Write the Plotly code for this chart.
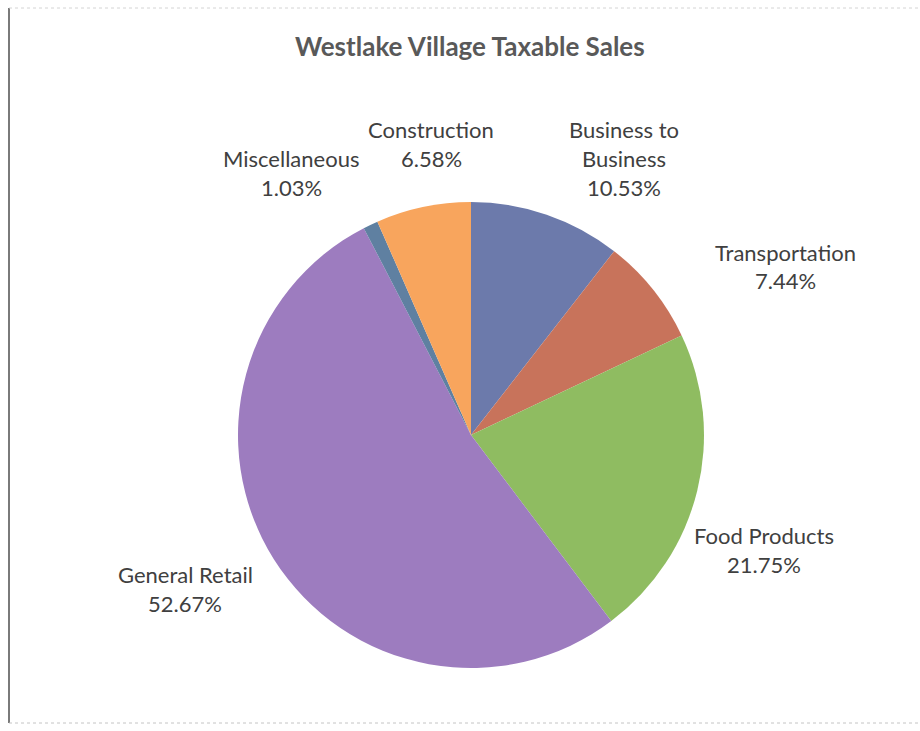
import plotly.graph_objects as go

# Taxable sales share by sector, clockwise from 12 o'clock
categories = ["Business to Business", "Transportation", "Food Products",
              "General Retail", "Miscellaneous", "Construction"]
shares = [10.53, 7.44, 21.75, 52.67, 1.03, 6.58]
colors = ["#6C7AAB", "#C8735B", "#8FBC61", "#9D7CBF", "#5F80A1", "#F8A55D"]

# Label lines as drawn beside each slice
label_lines = {
    "Business to Business": ["Business to", "Business"],
    "Transportation": ["Transportation"],
    "Food Products": ["Food Products"],
    "General Retail": ["General Retail"],
    "Miscellaneous": ["Miscellaneous"],
    "Construction": ["Construction"],
}
# Label anchor (x px, y px of first line) for each category
label_pos = {
    "Business to Business": (624, 129),
    "Transportation": (785, 252),
    "Food Products": (764, 535),
    "General Retail": (185, 574),
    "Miscellaneous": (291, 158),
    "Construction": (431, 129),
}

W, H = 920, 731
cx, cy, r = 471, 435, 233

fig = go.Figure(go.Pie(
    labels=categories,
    values=shares,
    marker=dict(colors=colors, line=dict(width=0)),
    sort=False,
    direction="clockwise",
    rotation=0,
    textinfo="none",
    hoverinfo="label+percent",
    showlegend=False,
    domain=dict(x=[(cx - r) / W, (cx + r) / W],
                y=[(H - cy - r) / H, (H - cy + r) / H]),
))

font_fam = "Lato, 'Open Sans', sans-serif"
line_gap = 29
annotations = []
for cat, val in zip(categories, shares):
    x0, y0 = label_pos[cat]
    lines = label_lines[cat] + [f"{val:.2f}%"]
    for i, t in enumerate(lines):
        annotations.append(dict(
            text=t, x=x0 / W, y=1 - (y0 + i * line_gap) / H,
            xref="paper", yref="paper", xanchor="center", yanchor="middle",
            showarrow=False, font=dict(family=font_fam, size=22, color="#404040"),
        ))

annotations.append(dict(
    text="<b>Westlake Village Taxable Sales</b>", x=470 / W, y=1 - 46 / H,
    xref="paper", yref="paper", xanchor="center", yanchor="middle",
    showarrow=False, font=dict(family=font_fam, size=26, color="#595959"),
))

# Chart frame: solid left edge, faint dotted top and bottom edges
shapes = [
    dict(type="line", xref="paper", yref="paper", x0=9 / W, x1=9 / W,
         y0=1 - 8 / H, y1=1 - 723 / H, line=dict(color="#7a7a7a", width=2)),
    dict(type="line", xref="paper", yref="paper", x0=9 / W, x1=918 / W,
         y0=1 - 8 / H, y1=1 - 8 / H, line=dict(color="#d4d4d4", width=1, dash="dot")),
    dict(type="line", xref="paper", yref="paper", x0=9 / W, x1=918 / W,
         y0=1 - 723 / H, y1=1 - 723 / H, line=dict(color="#c4c4c4", width=1, dash="dot")),
]

fig.update_layout(
    width=W, height=H,
    margin=dict(l=0, r=0, t=0, b=0),
    paper_bgcolor="white", plot_bgcolor="white",
    annotations=annotations, shapes=shapes,
)

fig.write_html("out.html")
